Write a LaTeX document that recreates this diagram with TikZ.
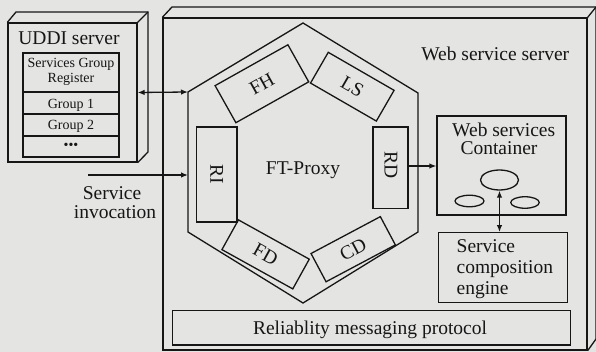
\documentclass[tikz,border=0pt]{standalone}
\usepackage{fontspec}
\setmainfont{Liberation Serif}
\usetikzlibrary{arrows.meta,shapes.geometric}
\definecolor{bg}{RGB}{228,228,226}
\definecolor{ink}{RGB}{22,22,22}
\begin{document}
\begin{tikzpicture}[x=1pt,y=-1pt,line width=1.3pt,color=ink,
  box/.style={draw,inner sep=0pt},
  lbl/.style={font=\fontsize{19.5}{22}\selectfont,inner sep=0pt,anchor=base},
  small/.style={font=\fontsize{14}{16}\selectfont,inner sep=0pt,anchor=base},
  rlbl/.style={font=\fontsize{19.5}{22}\selectfont,inner sep=0pt},
  oval/.style={draw,ellipse,inner sep=0pt},
  arr/.style={-{Latex[length=7pt,width=5.5pt]}},
  darr/.style={{Latex[length=7pt,width=5.5pt]}-{Latex[length=7pt,width=5.5pt]}}]
\fill[bg] (0,0) rectangle (596,352);
\useasboundingbox (0,0) rectangle (596,352);
% UDDI server
\node[box,minimum width=129pt,minimum height=139pt] (uddi) at (72.5,92.5) {};
\draw (uddi.north west) -- (16,12) -- (148,12) -- (148,152) -- (uddi.south east);
\draw (uddi.north east) -- (148,12);
\node[lbl] (uddil) at (69,45) {UDDI server};
\node[box,minimum width=96pt,minimum height=39pt] (sgr) at (71,72.5) {};
\node[box,minimum width=96pt,minimum height=22pt] (g1) at (71,103) {};
\node[box,minimum width=96pt,minimum height=22pt] (g2) at (71,125) {};
\node[box,minimum width=96pt,minimum height=21pt] (g3) at (71,146.5) {};
\node[small] (sgrt1) at (71,68) {Services Group};
\node[small] (sgrt2) at (71,83) {Register};
\node[small] (g1t) at (71,109) {Group 1};
\node[small] (g2t) at (71,130) {Group 2};
\node[small] (g3t) at (71,150) {•••};
% Web service server
\node[box,minimum width=424pt,minimum height=332pt] (wss) at (375,184) {};
\draw (wss.north west) -- (172,7) -- (596,7) -- (596,339) -- (wss.south east);
\draw (wss.north east) -- (596,7);
\node[lbl] (wssl) at (495.3,60.7) {Web service server};
% hexagon
\coordinate (hT) at (303,23);
\coordinate (hUR) at (418,93);
\coordinate (hLR) at (418,232);
\coordinate (hB) at (303,303);
\coordinate (hLL) at (188,232);
\coordinate (hUL) at (188,92);
\draw (hT) -- (hUR) -- (hLR) -- (hB) -- (hLL) -- (hUL) -- cycle;
\node[lbl] (ftp) at (303,174.3) {FT-Proxy};
\node[box,rotate=29.3,minimum width=83.5pt,minimum height=42.5pt] (FH) at (261.9,83.75) {};
\node[rlbl,rotate=29.3] (FHt) at (FH.center) {FH};
\node[box,rotate=-30,minimum width=76pt,minimum height=35.5pt] (LS) at (352.3,86.7) {};
\node[rlbl,rotate=-30] (LSt) at (LS.center) {LS};
\node[box,rotate=-29,minimum width=81pt,minimum height=34pt] (FD) at (265.6,254.4) {};
\node[rlbl,rotate=-29] (FDt) at (FD.center) {FD};
\node[box,rotate=28,minimum width=78.5pt,minimum height=32pt] (CD) at (353.2,249.2) {};
\node[rlbl,rotate=28] (CDt) at (CD.center) {CD};
\node[box,minimum width=40.5pt,minimum height=95pt] (RI) at (216.75,174.5) {};
\node[rlbl,rotate=-90] (RIt) at (RI.center) {RI};
\node[box,minimum width=35pt,minimum height=81.5pt] (RD) at (390.5,167.75) {};
\node[rlbl,rotate=-90] (RDt) at (391,165) {RD};
% container
\node[box,minimum width=129pt,minimum height=99pt] (cont) at (501.5,165.5) {};
\node[lbl] (contl1) at (503.7,137) {Web services};
\node[lbl] (contl2) at (499,155) {Container};
\node[oval,minimum width=38pt,minimum height=20pt] (e1) at (499.5,180) {};
\node[oval,minimum width=29pt,minimum height=11.5pt] (e2) at (469.5,201) {};
\node[oval,minimum width=28.5pt,minimum height=11.5pt] (e3) at (525,202.5) {};
% service composition engine
\node[box,minimum width=129pt,minimum height=70pt] (sce) at (502.8,267.7) {};
\node[lbl,anchor=base west] (scel1) at (456,253) {Service};
\node[lbl,anchor=base west] (scel2) at (456,273.3) {composition};
\node[lbl,anchor=base west] (scel3) at (456,294) {engine};
% reliability
\node[box,minimum width=398pt,minimum height=34.3pt] (rmp) at (371.7,327.85) {};
\node[lbl] (rmpl) at (370,334) {Reliablity messaging protocol};
% connectors
\draw[darr] (uddi.east) -- (hUL);
\coordinate (si) at (88,175);
\coordinate (inv) at (188,175);
\draw[arr] (si) -- (inv);
\node[lbl] (sil1) at (112,199.3) {Service};
\node[lbl] (sil2) at (115,219) {invocation};
\coordinate (rdo) at (408,166);
\draw[arr] (rdo) -- (rdo -| cont.west);
\draw[darr] (e1.south) -- (e1.south |- sce.north);
\end{tikzpicture}
\end{document}
